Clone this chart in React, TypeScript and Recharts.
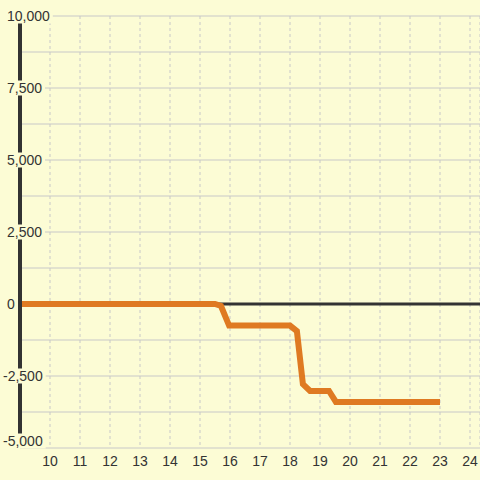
import { LineChart, Line, XAxis, YAxis, CartesianGrid, ReferenceLine } from 'recharts';

// x positions (days) and running balance
const days = [9, 15.5, 15.7, 15.97, 18.0, 18.23, 18.43, 18.67, 19.3, 19.53, 23];
const balance = [0, 0, -70, -750, -750, -940, -2780, -3020, -3020, -3400, -3400];

const xTicks = [10, 11, 12, 13, 14, 15, 16, 17, 18, 19, 20, 21, 22, 23, 24];
const yTicks = [-5000, -3750, -2500, -1250, 0, 1250, 2500, 3750, 5000, 6250, 7500, 8750, 10000];

const BG = '#FCFCD5';
const INK = '#333333';
const FONT = '"Liberation Sans", Arial, sans-serif';

const data = days.map((d, i) => ({ day: d, value: balance[i] }));

// rough text width for 14px Liberation Sans
const textWidth = (s: string) =>
  s.split('').reduce((w, c) => w + (c === ',' ? 0.278 : c === '-' ? 0.333 : 0.556), 0) * 14;

function YTick(props: any) {
  const { y, payload } = props;
  const v = payload.value as number;
  if (v % 2500 !== 0) return null;
  const label = v.toLocaleString('en-US');
  const x0 = v < 0 ? 3 : 7;
  const w = textWidth(label);
  const cy = v === -5000 ? y - 7 : y;
  return (
    <g>
      <rect x={x0 - 2} y={cy - 7.5} width={w + 5} height={15} fill={BG} />
      <text x={x0} y={cy} dy="0.35em" textAnchor="start" fill={INK} fontSize={14} fontFamily={FONT}>
        {label}
      </text>
    </g>
  );
}

function XTick(props: any) {
  const { x, y, payload } = props;
  return (
    <text x={x} y={y} dy={10} textAnchor="middle" fill={INK} fontSize={14} fontFamily={FONT}>
      {payload.value}
    </text>
  );
}

export default function App() {
  return (
    <div style={{ position: 'fixed', left: 0, top: 0, width: 480, height: 480, background: BG }}>
      <LineChart width={480} height={480} data={data} margin={{ top: 16, right: 0, bottom: 0, left: 0 }}>
        <CartesianGrid vertical={false} stroke="#C8C8C8" />
        <CartesianGrid horizontal={false} stroke="#C8C8C8" strokeDasharray="3 3" />
        <XAxis
          dataKey="day"
          type="number"
          domain={[9, 24.3333]}
          ticks={xTicks}
          interval={0}
          allowDataOverflow
          axisLine={false}
          tickLine={false}
          height={32}
          tick={<XTick />}
        />
        <YAxis
          type="number"
          domain={[-5000, 10000]}
          ticks={yTicks}
          interval={0}
          width={20}
          axisLine={{ stroke: INK, strokeWidth: 4 }}
          tickLine={false}
          tick={<YTick />}
        />
        <ReferenceLine y={0} stroke={INK} strokeWidth={3} />
        <Line
          dataKey="value"
          type="linear"
          stroke="#DF7A22"
          strokeWidth={6}
          dot={false}
          activeDot={false}
          isAnimationActive={false}
        />
      </LineChart>
    </div>
  );
}
